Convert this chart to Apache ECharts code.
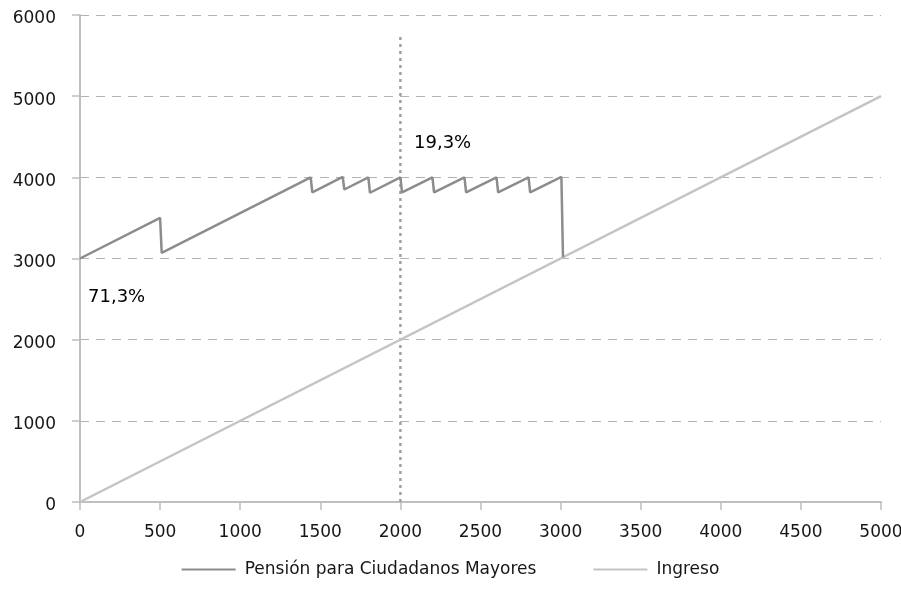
<!DOCTYPE html>
<html><head><meta charset="utf-8">
<script src="https://cdn.jsdelivr.net/npm/echarts@6/dist/echarts.min.js"></script>
<style>html,body{margin:0;padding:0;background:#fff}#c{width:901px;height:608px}</style>
</head><body><div id="c"></div>
<script>
var xTicks = [0,500,1000,1500,2000,2500,3000,3500,4000,4500,5000];
var yTicks = [0,1000,2000,3000,4000,5000,6000];
var pensionX = [0,500,510,1440,1450,1640,1650,1800,1810,2000,2010,2200,2210,2400,2410,2600,2610,2800,2810,3005,3015];
var pensionY = [3000,3500,3070,4000,3815,4005,3850,4000,3810,4000,3815,4000,3815,4000,3815,4000,3815,4000,3815,4005,3015];
var ingresoX = [0,5000];
var ingresoY = [0,5000];
var refLineX = [2000,2000];
var refLineY = [0,5750];
var labelTexts = ['19,3%','71,3%'];
var labelX = [2085,50];
var labelY = [4420,2525];
var seriesNames = ['Pensión para Ciudadanos Mayores','Ingreso'];

function zip(a,b){return a.map(function(v,i){return [v,b[i]];});}
var font = 'DejaVu Sans';
var txt = '#161616';
var chart = echarts.init(document.getElementById('c'));
chart.setOption({
  animation:false,
  textStyle:{fontFamily:font},
  grid:{left:80,right:20,top:15,bottom:106,containLabel:false,outerBoundsMode:'none'},
  legend:{bottom:25,left:'center',itemWidth:54,itemHeight:2,itemGap:57,
    data:[{name:seriesNames[0],icon:'rect'},{name:seriesNames[1],icon:'rect'}],
    textStyle:{fontFamily:font,fontSize:17,color:txt,padding:[0,0,0,4]}},
  xAxis:{type:'value',min:xTicks[0],max:xTicks[xTicks.length-1],interval:xTicks[1]-xTicks[0],
    axisLine:{show:true,lineStyle:{color:'#bfbfbf',width:2}},
    axisTick:{show:true,length:8,lineStyle:{color:'#bfbfbf',width:1.5}},
    axisLabel:{margin:22,fontSize:17,color:txt,fontFamily:font,formatter:function(v){return String(v);}},
    splitLine:{show:false}},
  yAxis:{type:'value',min:yTicks[0],max:yTicks[yTicks.length-1],interval:yTicks[1]-yTicks[0],
    axisLine:{show:true,lineStyle:{color:'#bfbfbf',width:2}},
    axisTick:{show:true,length:8,lineStyle:{color:'#bfbfbf',width:1.5}},
    axisLabel:{margin:24,fontSize:17,color:txt,fontFamily:font,verticalAlign:'top',lineHeight:8,formatter:function(v){return String(v);}},
    splitLine:{show:true,lineStyle:{color:'#b3b3b3',type:[9,7],width:1}}},
  series:[
    {name:seriesNames[1],type:'line',data:zip(ingresoX,ingresoY),showSymbol:false,
      lineStyle:{color:'#c4c4c4',width:2.5},itemStyle:{color:'#c4c4c4'},z:2},
    {name:seriesNames[0],type:'line',data:zip(pensionX,pensionY),showSymbol:false,
      lineStyle:{color:'#8c8c8c',width:2.5},itemStyle:{color:'#8c8c8c'},z:3},
    {name:'ref',type:'line',data:zip(refLineX,refLineY),showSymbol:false,
      lineStyle:{color:'#a0a0a0',width:2.5,type:[3,4]},z:1},
    {name:'labels',type:'scatter',symbolSize:0,silent:true,
      itemStyle:{color:'#000',opacity:1},
      data:labelTexts.map(function(t,i){return {value:[labelX[i],labelY[i]],name:t};}),
      label:{show:true,position:'right',distance:0,opacity:1,formatter:function(p){return p.name;},
        fontSize:18,color:'#000',fontFamily:font},z:4}
  ]
});
</script></body></html>
